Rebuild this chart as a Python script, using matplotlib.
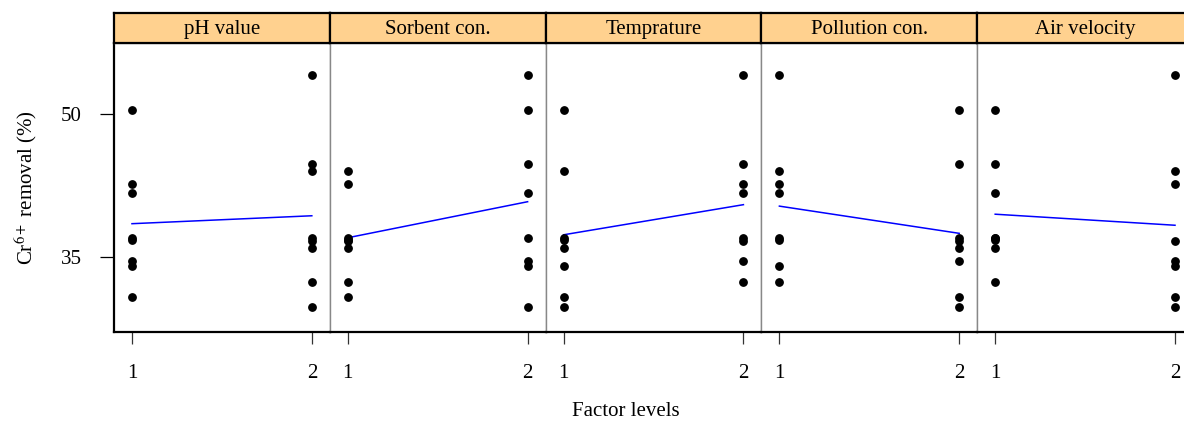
#!/usr/bin/env python
# coding: utf-8

# Main effects plot: Cr6+ removal vs factor levels (L16 design, 5 factors)

import numpy as np
import matplotlib
matplotlib.use('Agg')
import matplotlib.pyplot as plt

plt.rcParams['font.family'] = ['Liberation Serif', 'DejaVu Serif']
plt.rcParams['mathtext.fontset'] = 'stix'

# #### Data
# Response of the 16 runs
removal = [54.15, 50.42, 44.79, 44.05, 42.66, 41.78, 36.99, 37.05,
           36.81, 36.74, 35.94, 34.61, 34.12, 32.41, 30.84, 29.75]

# Factor level of each run
factors = ['pH value', 'Sorbent con.', 'Temprature', 'Pollution con.', 'Air velocity']
lvl_ph        = [2, 1, 2, 2, 1, 1, 1, 2, 1, 2, 2, 1, 1, 2, 1, 2]
lvl_sorbent   = [2, 2, 2, 1, 1, 2, 1, 2, 1, 1, 1, 2, 2, 1, 1, 2]
lvl_temp      = [2, 1, 2, 1, 2, 2, 1, 2, 1, 2, 1, 2, 1, 2, 1, 1]
lvl_pollution = [1, 2, 2, 1, 1, 1, 1, 2, 1, 2, 2, 2, 1, 1, 2, 2]
lvl_air       = [2, 1, 1, 2, 2, 1, 1, 1, 1, 2, 1, 2, 2, 1, 2, 2]
levels = [lvl_ph, lvl_sorbent, lvl_temp, lvl_pollution, lvl_air]

y_ticks = [35, 50]
x_ticks = [1, 2]

# #### Plot settings
W, H = 1184, 421
strip_col = '#FFD18F'
line_col = 'blue'
fs = 15

fig = plt.figure(figsize=(W/100, H/100), dpi=100)

p_left = 114
p_w = 215.8
p_bot = 331.7
p_top = 43.3
s_top = 12.7

y = np.array(removal)
for i, (name, lvl) in enumerate(zip(factors, levels)):
    x0 = p_left + i*p_w
    ax = fig.add_axes([x0/W, (H-p_bot)/H, p_w/W, (p_bot-p_top)/H])
    lvl = np.array(lvl)
    ax.plot(lvl, y, 'o', color='black', ms=5.3, zorder=3)
    means = [y[lvl == k].mean() for k in x_ticks]
    ax.plot(x_ticks, means, '-', color=line_col, lw=1.1, zorder=2)

    ax.set_xlim(0.9, 2.1)
    ax.set_ylim(27.2, 57.45)
    ax.set_xticks(x_ticks)
    ax.set_xticklabels([str(t) for t in x_ticks], fontsize=fs)
    ax.tick_params(axis='x', direction='out', length=8.4, width=0.9,
                   color='#333333', pad=15)
    if i == 0:
        ax.set_yticks(y_ticks)
        ax.set_yticklabels([str(t) for t in y_ticks], fontsize=fs)
        ax.tick_params(axis='y', direction='out', length=10, width=0.9, pad=13)
        ax.set_ylabel(r'Cr$^{6+}$ removal (%)', fontsize=fs, labelpad=16)
    else:
        ax.set_yticks([])

    for side in ['left', 'right', 'top']:
        ax.spines[side].set_color('#888888')
        ax.spines[side].set_linewidth(1.0)
    ax.spines['bottom'].set_color('black')
    ax.spines['bottom'].set_linewidth(1.6)
    if i == 0:
        ax.spines['left'].set_color('black')
        ax.spines['left'].set_linewidth(1.6)

    # strip on top
    sax = fig.add_axes([x0/W, (H-p_top)/H, p_w/W, (p_top-s_top)/H])
    sax.set_facecolor(strip_col)
    sax.set_xticks([])
    sax.set_yticks([])
    for side in sax.spines:
        sax.spines[side].set_linewidth(1.6)
        sax.spines[side].set_color('black')
    sax.text(0.5, 0.45, name, ha='center', va='center', fontsize=fs,
             transform=sax.transAxes)

fig.text(626/W, (H-411)/H, 'Factor levels', ha='center', va='center', fontsize=fs)

plt.savefig('out.png', dpi=100, facecolor='w')
